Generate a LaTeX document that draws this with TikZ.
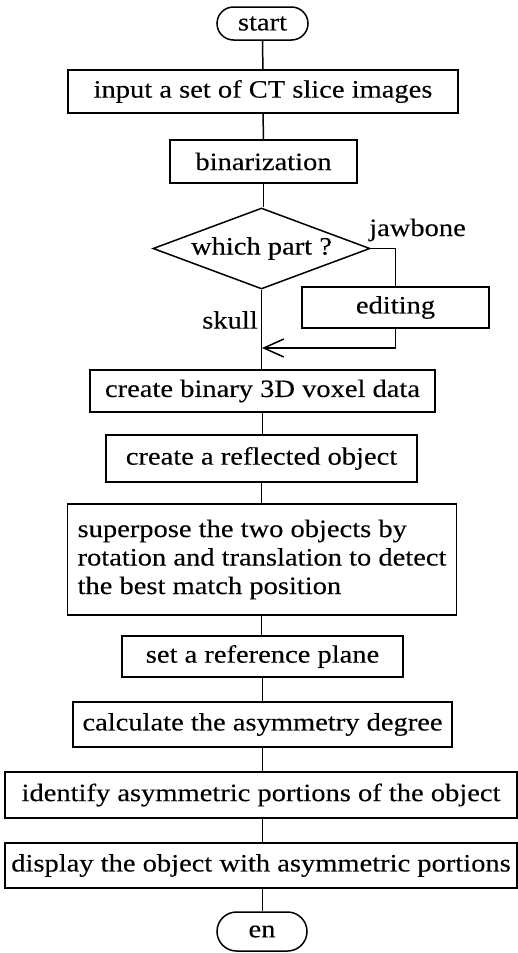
\documentclass[tikz,border=0pt]{standalone}
\usepackage{fontspec}
\setmainfont{Liberation Serif}[FakeStretch=1.14,FakeBold=0.2]
\usetikzlibrary{shapes.geometric,shapes.misc,arrows.meta}

\begin{document}
\begin{tikzpicture}[x=1pt,y=1pt,line width=1.5pt,
      box/.style={rectangle, draw, inner sep=0pt, font=\fontsize{25}{28.5}\selectfont},
      term/.style={rounded rectangle, draw, inner sep=0pt, font=\fontsize{25}{28.5}\selectfont},
      decision/.style={diamond, draw, inner sep=0pt, aspect=2.68, font=\fontsize{25}{28.5}\selectfont},
      lbl/.style={inner sep=0pt, font=\fontsize{25}{28.5}\selectfont}]

    \useasboundingbox (0,0) rectangle (518,-953);

    \node[term, minimum width=91, minimum height=33] (start) at (262.5,-23.5) {start};
    \node[box, minimum width=390, minimum height=43] (input) at (263,-91.5) {input a set of CT slice images};
    \node[box, minimum width=187, minimum height=43] (binar) at (263.5,-161.5) {binarization};
    \node[decision, minimum width=217, minimum height=81] (which) at (261.5,-248.5) {which part ?};
    \node[box, minimum width=187, minimum height=41] (edit) at (395.5,-307.5) {editing};
    \node[box, minimum width=345, minimum height=42] (voxel) at (262.5,-391) {create binary 3D voxel data};
    \node[box, minimum width=311, minimum height=47] (reflect) at (261.5,-458.5) {create a reflected object};
    \node[box, minimum width=389, minimum height=111, align=left] (superpose) at (262,-559.5)
      {superpose the two objects by\\rotation and translation to detect\\the best match position};
    \node[box, minimum width=281, minimum height=41] (plane) at (262.5,-656.5) {set a reference plane};
    \node[box, minimum width=379, minimum height=45] (degree) at (262.5,-724.5) {calculate the asymmetry degree};
    \node[box, minimum width=512, minimum height=46] (identify) at (261,-795) {identify asymmetric portions of the object};
    \node[box, minimum width=512, minimum height=45] (display) at (261,-865.5) {display the object with asymmetric portions};
    \node[term, minimum width=90, minimum height=39] (en) at (262,-931.5) {en};

    \node[lbl] (jaw) at (417.5,-230) {jawbone};
    \node[lbl] (skull) at (230,-320) {skull};
    \coordinate (join) at (262,-348);

    \draw (start) -- (input);
    \draw (input) -- (binar);
    \draw (binar.south) -- (binar.south |- which.north);
    \draw (which.south) -- (which.south |- voxel.north);
    \draw (which.east) -| (edit.north);
    \draw[-{Straight Barb[length=20pt,width=18pt]}] (edit.south) |- (join);
    \draw (voxel.south) -- (voxel.south |- reflect.north);
    \draw (reflect.south) -- (reflect.south |- superpose.north);
    \draw (reflect.south |- superpose.south) -- (reflect.south |- plane.north);
    \draw (plane.south) -- (plane.south |- degree.north);
    \draw (degree.south) -- (degree.south |- identify.north);
    \draw (degree.south |- identify.south) -- (degree.south |- display.north);
    \draw (degree.south |- display.south) -- (degree.south |- en.north);

  \end{tikzpicture}
\end{document}
